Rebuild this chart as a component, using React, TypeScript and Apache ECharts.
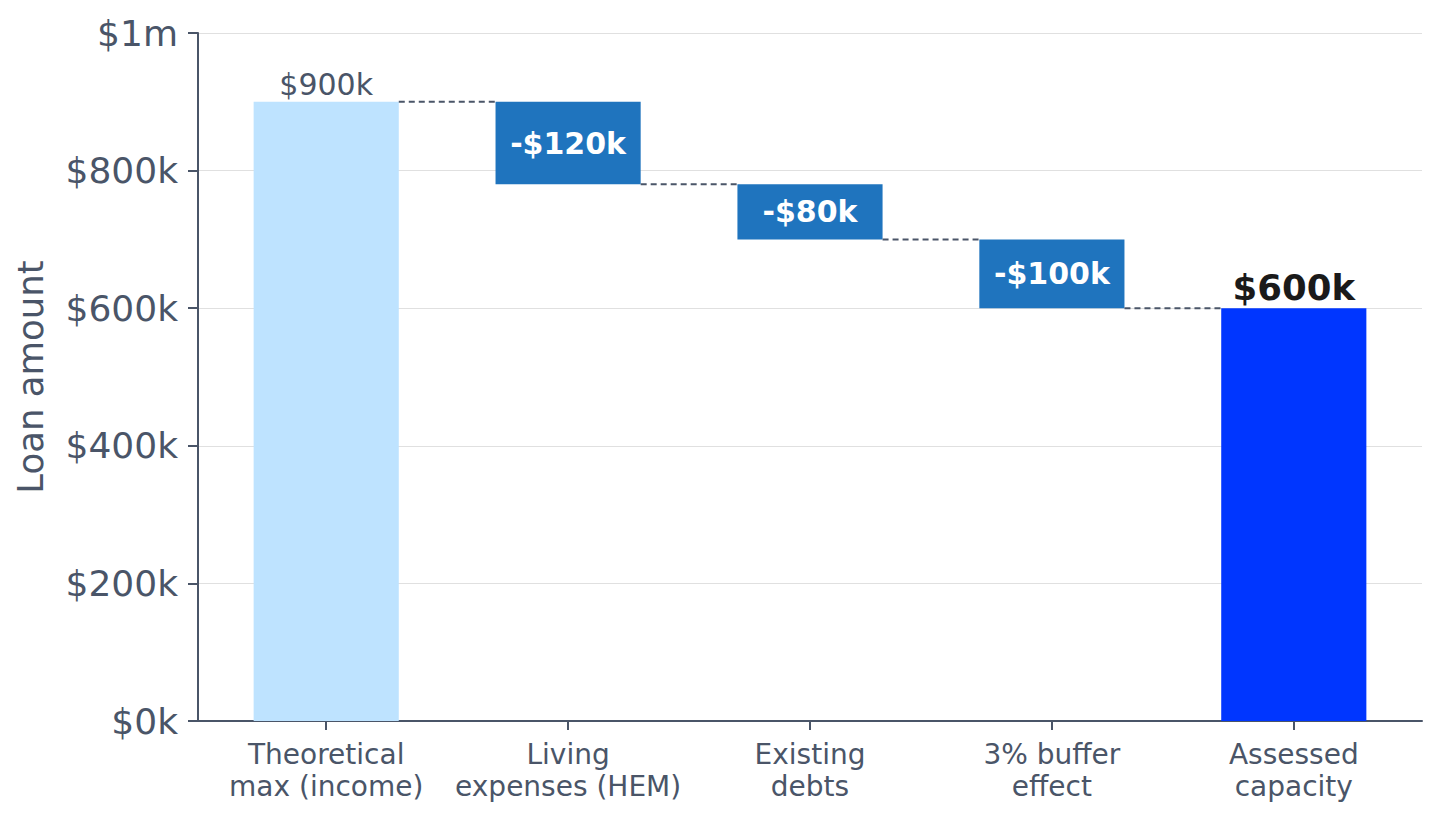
import React, { useEffect, useRef } from "react";
import * as echarts from "echarts";

const categories = [
  "Theoretical\nmax (income)",
  "Living\nexpenses (HEM)",
  "Existing\ndebts",
  "3% buffer\neffect",
  "Assessed\ncapacity",
];
const categoryIndex = [0, 1, 2, 3, 4];
const baseValues = [0, 780000, 700000, 600000, 0];
const barValues = [900000, 120000, 80000, 100000, 600000];
const barLabels = ["$900k", "-$120k", "-$80k", "-$100k", "$600k"];
const connectorLevels = [900000, 780000, 700000, 600000];
const yTicks = [0, 200000, 400000, 600000, 800000, 1000000];
const yTickLabels = ["$0k", "$200k", "$400k", "$600k", "$800k", "$1m"];

const FONT = "DejaVu Sans";
const AXIS = "#4a5568";
const BAR_W = 0.6; // in category units
const COLORS = ["#bee3ff", "#1f74be", "#1f74be", "#1f74be", "#0036ff"];

export default function App() {
  const ref = useRef<HTMLDivElement>(null);
  useEffect(() => {
    if (!ref.current) return;
    const chart = echarts.init(ref.current, null, { renderer: "svg" });
    const xMin = -0.53;
    const xMax = 4.53;
    const last = barValues.length - 1;
    chart.setOption({
      animation: false,
      grid: { left: 198, right: 20, top: 33, bottom: 101, containLabel: false },
      xAxis: {
        type: "value",
        min: xMin,
        max: xMax,
        axisLine: { show: true, onZero: false, lineStyle: { color: AXIS, width: 2 } },
        axisTick: { show: true, customValues: categoryIndex, length: 9, lineStyle: { color: AXIS, width: 2 } },
        axisLabel: {
          customValues: categoryIndex,
          color: AXIS,
          fontSize: 28,
          lineHeight: 32,
          fontFamily: FONT,
          margin: 17,
          formatter: (v: number) => categories[Math.round(v)] ?? "",
        },
        splitLine: { show: false },
      },
      yAxis: {
        type: "value",
        min: 0,
        max: 1000000,
        interval: 200000,
        name: "Loan amount",
        nameLocation: "middle",
        nameGap: 150,
        nameTextStyle: { color: AXIS, fontSize: 35.5, fontFamily: FONT },
        axisLine: { show: true, onZero: false, lineStyle: { color: AXIS, width: 2 } },
        axisTick: { show: true, length: 10, lineStyle: { color: AXIS, width: 2 } },
        axisLabel: {
          color: AXIS,
          fontSize: 36,
          fontFamily: FONT,
          margin: 20,
          formatter: (v: number) => {
            const idx = yTicks.indexOf(v);
            return idx >= 0 ? yTickLabels[idx] : "";
          },
        },
        splitLine: { lineStyle: { color: "#e0e0e0", width: 1 } },
      },
      series: [
        {
          type: "custom",
          z: 3,
          data: barValues.map((v, i) => [categoryIndex[i], baseValues[i], baseValues[i] + v]),
          renderItem: (params: any, api: any) => {
            const i = params.dataIndex;
            const x = api.value(0);
            const b = api.value(1);
            const t = api.value(2);
            const p1 = api.coord([x - BAR_W / 2, t]);
            const p2 = api.coord([x + BAR_W / 2, b]);
            let textStyle: any;
            let textConfig: any;
            if (i === 0) {
              textStyle = { text: barLabels[i], fill: AXIS, fontSize: 30, fontFamily: FONT };
              textConfig = { position: "top", distance: 2 };
            } else if (i === last) {
              textStyle = { text: barLabels[i], fill: "#1a1a1a", fontSize: 35.5, fontWeight: "bold", fontFamily: FONT };
              textConfig = { position: "top", distance: 3 };
            } else {
              textStyle = { text: barLabels[i], fill: "#ffffff", fontSize: 30, fontWeight: "bold", fontFamily: FONT };
              textConfig = { position: "inside" };
            }
            return {
              type: "rect",
              shape: { x: p1[0], y: p1[1], width: p2[0] - p1[0], height: p2[1] - p1[1] },
              style: { fill: COLORS[i] },
              textContent: { style: textStyle },
              textConfig,
            };
          },
        },
        {
          type: "custom",
          data: connectorLevels.map((lv, i) => [categoryIndex[i], lv]),
          z: 5,
          renderItem: (params: any, api: any) => {
            const i = api.value(0);
            const lv = api.value(1);
            const p1 = api.coord([i + BAR_W / 2, lv]);
            const p2 = api.coord([i + 1 - BAR_W / 2, lv]);
            return {
              type: "line",
              shape: { x1: p1[0], y1: p1[1], x2: p2[0], y2: p2[1] },
              style: { stroke: AXIS, lineWidth: 2, lineDash: [6, 4] },
            };
          },
        },
      ],
    });
    return () => chart.dispose();
  }, []);
  return <div ref={ref} style={{ position: "fixed", left: 0, top: 0, width: 1442, height: 822, background: "#fff" }} />;
}
